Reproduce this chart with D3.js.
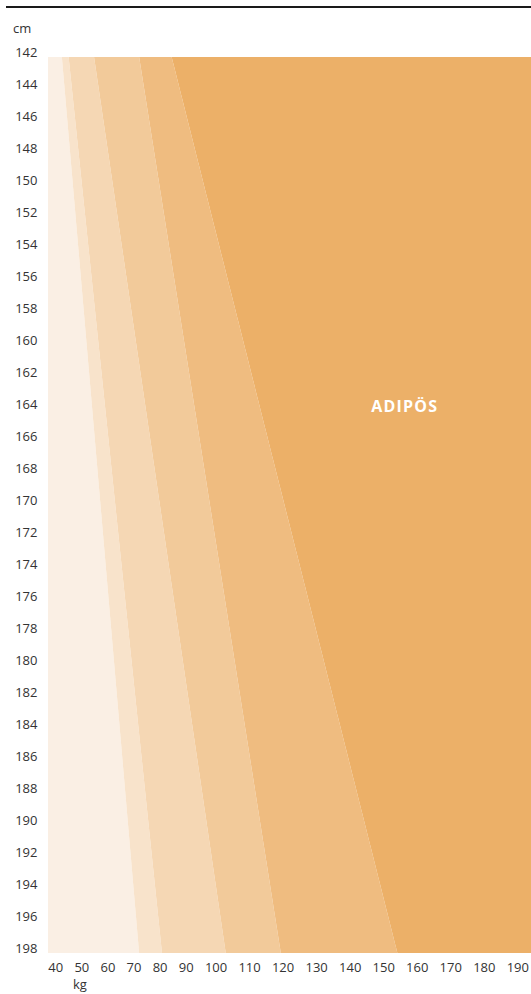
<!DOCTYPE html>
<html>
<head>
<meta charset="utf-8">
<script src="https://cdn.jsdelivr.net/npm/d3@7"></script>
<style>
  html, body { margin: 0; padding: 0; background: #fff; }
  svg { display: block; font-family: "Open Sans", sans-serif; }
</style>
</head>
<body>
<div id="chart"></div>
<script>
var
  width = 531,
  height = 994;

// tick labels
var heightTicks = [142, 144, 146, 148, 150, 152, 154, 156, 158, 160, 162, 164, 166, 168, 170,
  172, 174, 176, 178, 180, 182, 184, 186, 188, 190, 192, 194, 196, 198];
var weightTicks = [40, 50, 60, 70, 80, 90, 100, 110, 120, 130, 140, 150, 160, 170, 180, 190];

// band borders (kg) read at the top (142 cm) and bottom (198 cm) of the chart
var edgeTop = [44.3, 46.4, 54.3, 68.3, 78.4];
var edgeBottom = [68.3, 75.4, 95.2, 112.3, 148.5];
var bandColors = ["#faefe4", "#f8e3cb", "#f5d7b4", "#f2ca9a", "#efbc80", "#ecb068"];
var bandLabels = ["", "", "", "", "", "ADIPÖS"];
var labelPos = { weight: 150.6, height: 164.2 };

var svg = d3.select("#chart")
  .append("svg")
  .attr("width", width)
  .attr("height", height);

var x = d3.scaleLinear().domain([40, 190]).range([48, 531]);
var y = d3.scaleLinear().domain([142, 198]).range([57, 953]);

// top rule
svg.append("line")
  .attr("x1", 6).attr("x2", width)
  .attr("y1", 7).attr("y2", 7)
  .attr("stroke", "#1a1a1a")
  .attr("stroke-width", 1.8);

// bands
var hMin = y.domain()[0], hMax = y.domain()[1];
var wMin = x.domain()[0], wMax = x.domain()[1];
var bands = bandColors.map(function(c, i) {
  return {
    color: c,
    lt: i == 0 ? wMin : edgeTop[i - 1],
    rt: i == bandColors.length - 1 ? wMax : edgeTop[i],
    lb: i == 0 ? wMin : edgeBottom[i - 1],
    rb: i == bandColors.length - 1 ? wMax : edgeBottom[i]
  };
});

svg.selectAll(".band")
  .data(bands)
  .enter().append("path")
  .attr("class", "band")
  .attr("fill", function(d) { return d.color; })
  .attr("d", function(d) {
    return "M" + x(d.lt) + "," + y(hMin) +
      "L" + x(d.rt) + "," + y(hMin) +
      "L" + x(d.rb) + "," + y(hMax) +
      "L" + x(d.lb) + "," + y(hMax) + "Z";
  });

svg.append("text")
  .attr("x", x(labelPos.weight) + 0.6)
  .attr("y", y(labelPos.height))
  .attr("text-anchor", "middle")
  .attr("fill", "#fff")
  .attr("font-size", "16px")
  .attr("font-weight", 700)
  .attr("letter-spacing", "1.2px")
  .text(bandLabels[5]);

// y labels
svg.append("text")
  .attr("x", 13).attr("y", 33)
  .attr("fill", "#333")
  .attr("font-size", "13px")
  .text("cm");

svg.selectAll(".ylab")
  .data(heightTicks)
  .enter().append("text")
  .attr("class", "ylab")
  .attr("x", 37.5)
  .attr("y", function(d) { return y(d); })
  .attr("text-anchor", "end")
  .attr("fill", "#333")
  .attr("font-size", "13px")
  .text(function(d) { return d; });

// x labels, spread with equal gaps under the plot
var xl = svg.selectAll(".xlab")
  .data(weightTicks)
  .enter().append("text")
  .attr("class", "xlab")
  .attr("y", 972)
  .attr("fill", "#333")
  .attr("font-size", "13px")
  .text(function(d) { return d; });

var widths = [];
xl.each(function() { widths.push(this.getComputedTextLength()); });
var x0 = 48.3, x1 = 529;
var gap = (x1 - x0 - d3.sum(widths)) / (widths.length - 1);
var pos = x0;
xl.attr("x", function(d, i) {
  var p = pos;
  pos += widths[i] + gap;
  return p;
});

svg.append("text")
  .attr("x", 73).attr("y", 989)
  .attr("fill", "#333")
  .attr("font-size", "13px")
  .text("kg");
</script>
</body>
</html>
